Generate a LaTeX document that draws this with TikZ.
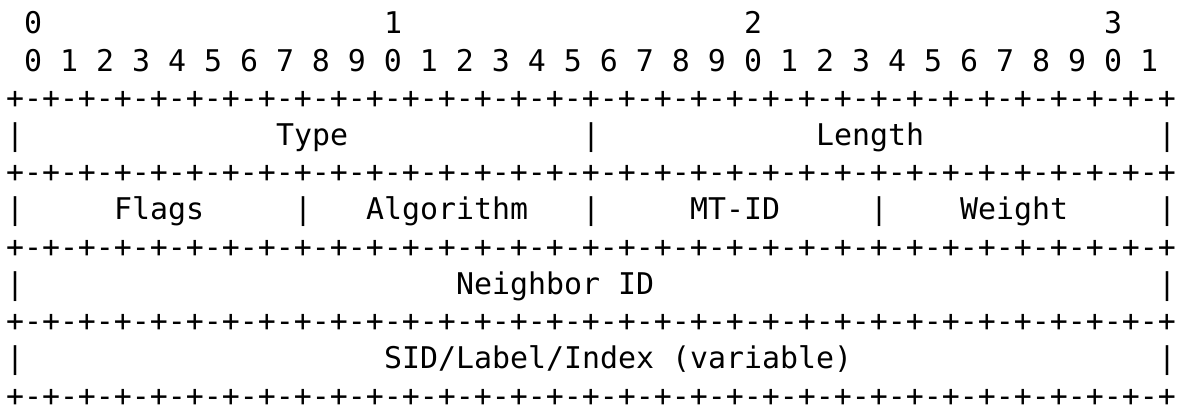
\documentclass[tikz,border=0pt]{standalone}
\usepackage{fontspec}
\newfontfamily\asciifont{DejaVu Sans Mono}
\newcommand\sk[1]{\hskip #1\fontcharwd\font`0\relax}
\newcommand\hb{+-+-+-+-+-+-+-+-}
\newcommand\fullbar{\hb\hb\hb\hb+}
\tikzset{
  asciiline/.style={anchor=base west, inner sep=0pt, outer sep=0pt,
    font=\asciifont\fontsize{14.95}{18}\selectfont\frenchspacing}
}
\begin{document}
\begin{tikzpicture}[x=1pt,y=1pt]
\useasboundingbox[fill=white] (0,0) rectangle (593,-205.5);
\node[asciiline] (l1)  at (3,-17.0)  {\sk{1}0\sk{19}1\sk{19}2\sk{19}3};
\node[asciiline] (l2)  at (3,-35.6)  {\sk{1}0\sk{1}1\sk{1}2\sk{1}3\sk{1}4\sk{1}5\sk{1}6\sk{1}7\sk{1}8\sk{1}9\sk{1}0\sk{1}1\sk{1}2\sk{1}3\sk{1}4\sk{1}5\sk{1}6\sk{1}7\sk{1}8\sk{1}9\sk{1}0\sk{1}1\sk{1}2\sk{1}3\sk{1}4\sk{1}5\sk{1}6\sk{1}7\sk{1}8\sk{1}9\sk{1}0\sk{1}1};
\node[asciiline] (l3)  at (3,-54.2)  {\fullbar};
\node[asciiline] (l4)  at (3,-72.8)  {|\sk{14}Type\sk{13}|\sk{12}Length\sk{13}|};
\node[asciiline] (l5)  at (3,-91.4)  {\fullbar};
\node[asciiline] (l6)  at (3,-110.0) {|\sk{5}Flags\sk{5}|\sk{3}Algorithm\sk{3}|\sk{5}MT-ID\sk{5}|\sk{4}Weight\sk{5}|};
\node[asciiline] (l7)  at (3,-128.6) {\fullbar};
\node[asciiline] (l8)  at (3,-147.2) {|\sk{24}Neighbor\sk{1}ID\sk{28}|};
\node[asciiline] (l9)  at (3,-165.8) {\fullbar};
\node[asciiline] (l10) at (3,-184.4) {|\sk{20}SID/Label/Index\sk{1}(variable)\sk{17}|};
\node[asciiline] (l11) at (3,-203.0) {\fullbar};
\end{tikzpicture}
\end{document}
